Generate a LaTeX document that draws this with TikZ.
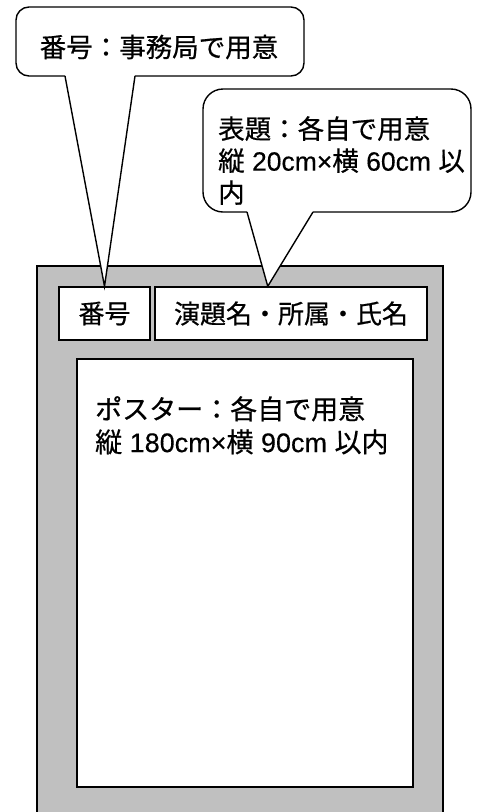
\documentclass[tikz,border=0pt]{standalone}
\usepackage{fontspec}
\setmainfont{Noto Sans CJK JP}[FakeBold=0.6]
\newfontfamily\lat{Liberation Sans}[FakeBold=0.3]
\usetikzlibrary{calc}
\definecolor{panelgray}{HTML}{C0C0C0}
\begin{document}
\begin{tikzpicture}[x=1pt,y=-1pt,
  line/.style={line width=1.4pt, draw=black},
  box/.style={line, fill=white, inner sep=0pt, font=\fontsize{26}{32}\selectfont},
  bubble/.style={line, fill=white, rounded corners=#1},
  txt/.style={anchor=north west, align=left, inner sep=0pt, font=\fontsize{27}{33}\selectfont}]
\useasboundingbox (0,0) rectangle (478,812);
\clip (0,0) rectangle (478,812);
% gray board
\filldraw[line, fill=panelgray] (37,266) rectangle (443,840);
% boxes
\node[box, minimum width=91pt, minimum height=53pt] (bango) at (104.5,313.5) {番号};
\node[box, minimum width=272pt, minimum height=53pt] (endai) at (291,313.5) {演題名・所属・氏名};
\node[box, minimum width=336pt, minimum height=428pt] (poster) at (245,573) {};
\node[txt] (postertext) at (95,396) {ポスター：各自で用意\\縦{\lat\ 180cm×}横{\lat\ 90cm }以内};
% callout 1
\coordinate (tip1) at (bango.north);
\filldraw[bubble=13pt] (16,7) rectangle (304,76);
\fill[white] (66,73) -- (65,76) -- (tip1) -- (135,76) -- (134,73) -- cycle;
\draw[line, line join=miter] (65,76) -- (tip1) -- (135,76);
\node[anchor=center, inner sep=0pt, font=\fontsize{26.5}{32}\selectfont] (c1text) at (159,47) {番号：事務局で用意};
% callout 2
\coordinate (tip2) at ($(endai.north west)!0.415!(endai.north east)$);
\filldraw[bubble=20pt] (203,89) rectangle (471,212);
\fill[white] (248,209) -- (247,212) -- (tip2) -- (313,212) -- (312,209) -- cycle;
\draw[line, line join=miter] (247,212) -- (tip2) -- (313,212);
\node[txt, font=\fontsize{26.5}{32}\selectfont] (c2text) at (218,116) {表題：各自で用意\\縦{\lat\ 20cm×}横{\lat\ 60cm }以\\内};
\end{tikzpicture}
\end{document}
